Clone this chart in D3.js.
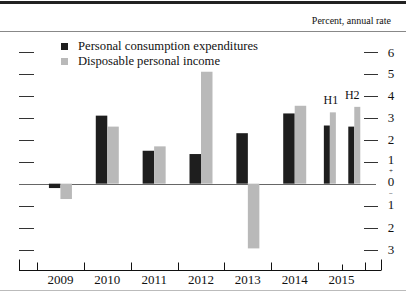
<!DOCTYPE html>
<html>
<head>
<meta charset="utf-8">
<script src="https://cdn.jsdelivr.net/npm/d3@7"></script>
<style>
  body { margin: 0; background: #fff; }
  text { font-family: "Liberation Serif", "DejaVu Serif", serif; fill: #111; }
</style>
</head>
<body>
<script>
const width = 406;
const height = 291;

// data
const years = ["2009", "2010", "2011", "2012", "2013", "2014", "2015"];
const periods = ["2009", "2010", "2011", "2012", "2013", "2014", "2015 H1", "2015 H2"];
const pce = [-0.2, 3.1, 1.5, 1.35, 2.3, 3.2, 2.65, 2.6];
const dpi = [-0.7, 2.6, 1.7, 5.1, -2.95, 3.55, 3.25, 3.5];
const yTicks = [-3, -2, -1, 0, 1, 2, 3, 4, 5, 6];
const seriesNames = ["Personal consumption expenditures", "Disposable personal income"];
const legendWidths = [180, 142];

const pceColor = "#1e1e1e";
const dpiColor = "#b9b9b9";

const svg = d3.select("body")
  .append("svg")
  .attr("width", width)
  .attr("height", height);

// scales
const x = d3.scaleBand()
  .domain(years)
  .range([37, 365])
  .paddingInner(0)
  .paddingOuter(0);

const y = d3.scaleLinear()
  .domain([-3, 6])
  .range([249.5, 52]);

const bw = x.bandwidth();

// centre and bar width for each period
function periodCenter(p) {
  if (p === "2015 H1") return x("2015") + bw * 0.25;
  if (p === "2015 H2") return x("2015") + bw * 0.75 + 1;
  return x(p) + bw / 2;
}
function barWidth(p) {
  return p.indexOf("H") >= 0 ? 6 : 11.5;
}

// header rules and unit label
svg.append("rect").attr("x", 0).attr("y", 1).attr("width", width).attr("height", 3).attr("fill", "#222");
svg.append("line")
  .attr("x1", 0).attr("x2", width).attr("y1", 31.5).attr("y2", 31.5)
  .attr("stroke", "#888").attr("stroke-width", 1);
svg.append("text")
  .attr("x", 391).attr("y", 24)
  .attr("text-anchor", "end")
  .style("font-size", "10px")
  .text("Percent, annual rate");

// tick marks on both sides
const tickG = svg.append("g");
tickG.selectAll(".lt")
  .data(yTicks.filter(d => d !== 0))
  .enter().append("line")
  .attr("x1", 19).attr("x2", 34)
  .attr("y1", d => Math.round(y(d)) + 0.5).attr("y2", d => Math.round(y(d)) + 0.5)
  .attr("stroke", "#333");
tickG.selectAll(".rt")
  .data(yTicks.filter(d => d !== 0))
  .enter().append("line")
  .attr("x1", 364).attr("x2", 378)
  .attr("y1", d => Math.round(y(d)) + 0.5).attr("y2", d => Math.round(y(d)) + 0.5)
  .attr("stroke", "#333");

// right axis labels (away from zero)
tickG.selectAll(".rl")
  .data(yTicks.filter(d => Math.abs(d) > 1))
  .enter().append("text")
  .attr("x", 391)
  .attr("y", d => y(d) + 4.5)
  .attr("text-anchor", "middle")
  .style("font-size", "13px")
  .text(d => Math.abs(d));

// stacked labels around zero: 1, +, 0, −, 1
const zeroStack = [
  { t: "1", size: 13, base: 163.6 },
  { t: "+", size: 7, base: 173.0 },
  { t: "0", size: 13, base: 186.3 },
  { t: "\u2212", size: 7, base: 195.6 },
  { t: "1", size: 13, base: 209.0 }
];
tickG.selectAll(".zl")
  .data(zeroStack)
  .enter().append("text")
  .attr("x", 391)
  .attr("y", d => d.base)
  .attr("text-anchor", "middle")
  .style("font-size", d => d.size + "px")
  .text(d => d.t);

// zero line
svg.append("line")
  .attr("x1", 19).attr("x2", 376)
  .attr("y1", Math.round(y(0)) + 0.5).attr("y2", Math.round(y(0)) + 0.5)
  .attr("stroke", "#666").attr("stroke-width", 1);

// bars
const bars = svg.append("g");
bars.selectAll(".pce")
  .data(periods)
  .enter().append("rect")
  .attr("x", p => periodCenter(p) - barWidth(p))
  .attr("width", p => barWidth(p))
  .attr("y", (p, i) => y(Math.max(0, pce[i])))
  .attr("height", (p, i) => Math.abs(y(pce[i]) - y(0)))
  .attr("fill", pceColor);
bars.selectAll(".dpi")
  .data(periods)
  .enter().append("rect")
  .attr("x", p => periodCenter(p))
  .attr("width", p => barWidth(p))
  .attr("y", (p, i) => y(Math.max(0, dpi[i])))
  .attr("height", (p, i) => Math.abs(y(dpi[i]) - y(0)))
  .attr("fill", dpiColor);

// H1 / H2 labels
svg.append("text").attr("x", periodCenter("2015 H1") + 1).attr("y", 104)
  .attr("text-anchor", "middle").style("font-size", "12px").text("H1");
svg.append("text").attr("x", periodCenter("2015 H2") - 2).attr("y", 99)
  .attr("text-anchor", "middle").style("font-size", "12px").text("H2");

// bottom axis
const axisY = 270.5;
const xAxis = svg.append("g");
xAxis.append("line")
  .attr("x1", 19).attr("x2", 381).attr("y1", axisY).attr("y2", axisY)
  .attr("stroke", "#111");
[19, 381].forEach(v => {
  xAxis.append("line").attr("x1", v + 0.5).attr("x2", v + 0.5)
    .attr("y1", axisY - 11).attr("y2", axisY).attr("stroke", "#111");
});
const yearEdges = years.map(d => x(d)).concat([x("2015") + bw]);
xAxis.selectAll(".yt")
  .data(yearEdges)
  .enter().append("line")
  .attr("x1", d => Math.round(d) + 0.5).attr("x2", d => Math.round(d) + 0.5)
  .attr("y1", axisY - 8).attr("y2", axisY)
  .attr("stroke", "#111");
xAxis.append("line")
  .attr("x1", Math.round(x("2015") + bw / 2) + 0.5).attr("x2", Math.round(x("2015") + bw / 2) + 0.5)
  .attr("y1", axisY - 6).attr("y2", axisY)
  .attr("stroke", "#111");
xAxis.selectAll(".yl")
  .data(years)
  .enter().append("text")
  .attr("x", d => x(d) + bw / 2)
  .attr("y", 284)
  .attr("text-anchor", "middle")
  .style("font-size", "13px")
  .text(d => d);

// bottom rule
svg.append("line")
  .attr("x1", 0).attr("x2", width).attr("y1", 290.5).attr("y2", 290.5)
  .attr("stroke", "#bbb");

// legend
const legend = svg.append("g");
legend.selectAll("rect")
  .data(seriesNames)
  .enter().append("rect")
  .attr("x", 61)
  .attr("y", (d, i) => 43 + i * 15)
  .attr("width", 7).attr("height", 7)
  .attr("fill", (d, i) => i === 0 ? pceColor : dpiColor);
legend.selectAll("text")
  .data(seriesNames)
  .enter().append("text")
  .attr("x", 78)
  .attr("y", (d, i) => 50 + i * 15)
  .attr("textLength", (d, i) => legendWidths[i])
  .attr("lengthAdjust", "spacingAndGlyphs")
  .style("font-size", "13px")
  .text(d => d);
</script>
</body>
</html>
